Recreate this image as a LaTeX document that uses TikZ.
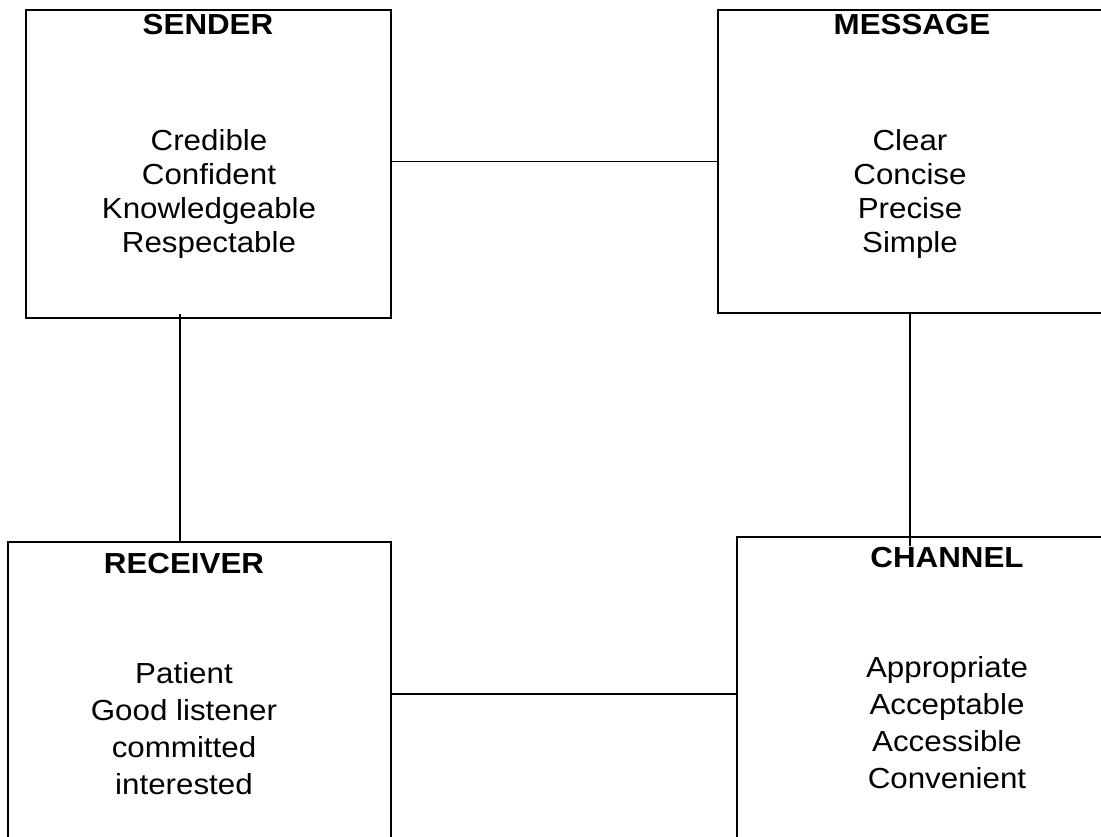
\documentclass[tikz,border=0pt]{standalone}
\usepackage{fontspec}
\setmainfont{Liberation Sans}[FakeStretch=1.08]
\usetikzlibrary{calc}

\tikzset{
  box/.style={draw, rectangle, inner sep=0pt},
  head/.style={anchor=base, inner sep=0pt, font=\fontsize{29}{34}\selectfont\bfseries},
  body/.style={anchor=base, inner sep=0pt, align=center, font=\fontsize{29}{34}\selectfont},
  bodywide/.style={body, font=\fontsize{29}{37}\selectfont}
}

\begin{document}
\begin{tikzpicture}[x=1pt, y=-1pt, line width=1.4pt]
	\useasboundingbox (0,0) rectangle (1101,837);

	% the four boxes (some run off the page)
	\node[box, minimum width=365pt, minimum height=308pt] (sender) at (208.5,164) {};
	\node[box, minimum width=388pt, minimum height=303pt] (message) at (912,161.5) {};
	\node[box, minimum width=383pt, minimum height=358pt] (receiver) at (199.5,721) {};
	\node[box, minimum width=420pt, minimum height=363pt] (channel) at (947,718.5) {};

	% titles
	\node[head] (senderT) at (208,35) {SENDER};
	\node[head] (messageT) at (912,35) {MESSAGE};
	\node[head] (receiverT) at (184,573) {RECEIVER};
	\node[head] (channelT) at (947,567) {CHANNEL};

	% qualities (base = last line)
	\node[body] (senderQ) at (209,253) {Credible\\Confident\\Knowledgeable\\Respectable};
	\node[body] (messageQ) at (910,253) {Clear\\Concise\\Precise\\Simple};
	\node[bodywide] (receiverQ) at (184,794) {Patient\\Good listener\\committed\\interested};
	\node[bodywide] (channelQ) at (947,788) {Appropriate\\Acceptable\\Accessible\\Convenient};

	% links
	\draw (message.west -| sender.east) -- (message.west);
	\draw ($(sender.south west)!.422!(sender.south east)$) coordinate (sr) ++(0,-5) -- (sr |- receiver.north);
	\draw ([xshift=-2pt]message.south) -- ([xshift=-2pt,yshift=-10pt]message.south |- channel.north);
	\coordinate (rc) at (0,694);
	\draw (rc -| receiver.east) -- (rc -| channel.west);
\end{tikzpicture}
\end{document}
